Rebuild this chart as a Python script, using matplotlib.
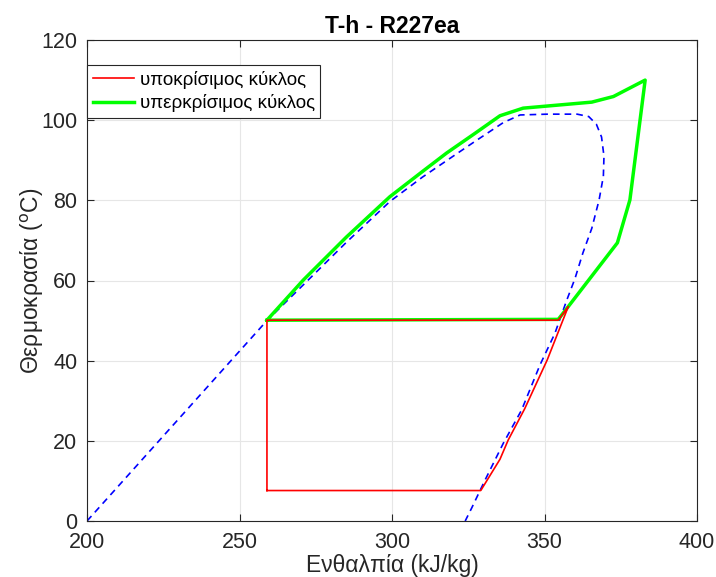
import matplotlib
matplotlib.use("Agg")
import matplotlib.pyplot as plt
import numpy as np

plt.rcParams['font.family'] = ['Liberation Sans', 'DejaVu Sans']

# saturation dome of R227ea (h in kJ/kg, T in C)
dome_h = [200, 259, 270.9, 285, 299.3, 310, 317.9, 327, 336.5, 342, 351,
          360.7, 364.5, 367, 368.7, 369.5, 369.3, 367.9, 365.5, 362.6, 360,
          357.3, 353.4, 348.5, 342.5, 336.5, 330.5, 326.1, 324]
dome_T = [0, 50, 58.9, 69.5, 79.7, 85.8, 89.9, 94.6, 99.4, 101.3, 101.5,
          101.5, 100.9, 99, 95.8, 91, 86, 80.1, 73, 66.9, 60.5,
          55.1, 46.8, 38.9, 27.7, 19.4, 10.2, 3.2, 0]

# subcritical cycle
sub_h = [259, 259, 354.5, 357.8, 350.9, 343.5, 338.1, 335.4, 329.1, 259]
sub_T = [7.6, 50.1, 50.1, 53.5, 40.2, 28, 20.2, 15.4, 7.6, 7.6]

# supercritical cycle
sup_h = [259, 270.9, 285, 299.3, 310, 317.9, 327, 335.4, 343, 365.5, 372.6,
         383, 378, 373.9, 357.8, 354.5, 259]
sup_T = [50.1, 60.1, 70.8, 80.9, 87.2, 91.8, 96.6, 101.1, 103, 104.5, 105.9,
         110, 80.1, 69.4, 53.5, 50.3, 50.1]

fig = plt.figure(figsize=(7.16, 5.77), dpi=100)
ax = fig.add_axes([87/716, 56/577, 610/716, 481/577])

ax.plot(dome_h, dome_T, '--', color='blue', lw=1.2, dashes=(4, 3), zorder=2)
l2, = ax.plot(sup_h, sup_T, color='#00ff00', lw=2.5, zorder=3,
              label='υπερκρίσιμος κύκλος')
l1, = ax.plot(sub_h, sub_T, color='red', lw=1.2, zorder=4,
              label='υποκρίσιμος κύκλος')

ax.set_xlim(200, 400)
ax.set_ylim(0, 120)
ax.set_xticks([200, 250, 300, 350, 400])
ax.set_yticks([0, 20, 40, 60, 80, 100, 120])
ax.grid(True, color='#e6e6e6', lw=0.8)
ax.set_axisbelow(True)
ax.tick_params(direction='in', top=True, right=True, labelsize=15.5,
               colors='#262626', length=5)
ax.tick_params(axis='y', pad=7)
ax.tick_params(axis='x', pad=8)
for s in ax.spines.values():
    s.set_color('#262626')
    s.set_linewidth(0.8)

ax.set_title('T-h - R227ea', fontsize=16.5, fontweight='bold', pad=5)
ax.set_xlabel('Ενθαλπία (kJ/kg)', fontsize=16.5, color='#262626')
ax.set_ylabel('Θερμοκρασία ($^{\\mathrm{o}}$C)', fontsize=16.5,
              color='#262626')
ax.xaxis.set_label_coords(0.5, -0.068)
ax.yaxis.set_label_coords(-0.068, 0.5)

leg = ax.legend(handles=[l1, l2], loc='upper left', bbox_to_anchor=(0, 0.948),
                borderaxespad=0, fontsize=13.5, fancybox=False, framealpha=1,
                edgecolor='#262626', handlelength=2.2, handletextpad=0.3,
                borderpad=0.3, labelspacing=0.3)
leg.get_frame().set_linewidth(0.8)

fig.savefig('out.png', dpi=100)
